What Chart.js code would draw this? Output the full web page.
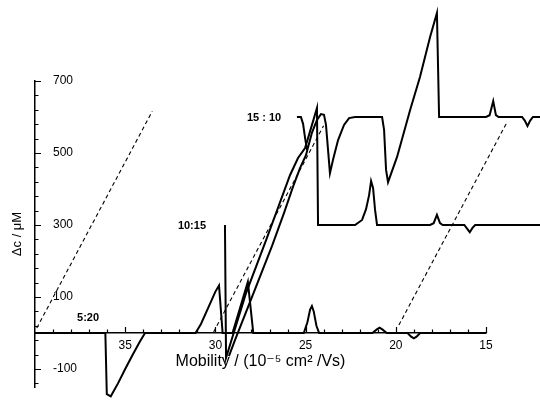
<!DOCTYPE html>
<html>
<head>
<meta charset="utf-8">
<script src="https://cdn.jsdelivr.net/npm/chart.js@4"></script>
<style>
  html, body { margin: 0; padding: 0; background: #fff; }
  #wrap { width: 540px; height: 400px; }
</style>
</head>
<body>
<div id="wrap"><canvas id="mobilityChart" width="540" height="400"></canvas></div>
<script>
// Trace 5:20 (baseline 0)
const mob520 = [40, 36.1, 36.02, 35.8, 35.4, 35.0, 34.6, 34.2, 33.9, 31.1, 30.8, 30.4, 30.0, 29.8, 29.6,
  29.05, 28.2, 27.9, 25.1, 24.9, 24.75, 24.65, 24.55, 24.4, 24.25, 21.3, 21.05, 20.9, 20.75, 20.5,
  19.35, 19.15, 19.0, 18.85, 18.65, 15];
const dc520 = [0, 0, -170, -176, -140, -100, -62, -25, 0, 0, 25, 70, 115, 132, 0,
  0, 142, 0, 0, 30, 65, 75, 60, 20, 0, 0, 10, 15, 10, 0,
  0, -10, -15, -10, 0, 0];

// Trace 10:15 (baseline 300)
const mob1015 = [29.47, 29.41, 28.3, 27.19, 26.47, 25.86, 25.42, 25.03, 24.70, 24.37, 24.31,
  22.26, 21.87, 21.65, 21.48, 21.37, 21.26, 21.15, 21.04,
  18.1, 17.9, 17.72, 17.55, 17.4, 16.2, 16.05, 15.9, 15.75, 15.6, 12];
const dc1015 = [300, -69, 111, 258, 356, 439, 486, 514, 569, 625, 300,
  300, 314, 344, 383, 422, 403, 342, 300,
  300, 305, 328, 305, 300, 300, 290, 280, 292, 300, 300];

// Trace 15:10 (baseline 600); null splits the short start from the rising front
const mob1510 = [25.48, 25.26, 25.14, 25.03, 24.92, 24.9,
  29.25, 28.91, 27.86, 26.86, 26.2, 25.7, 25.31, 24.98, 24.65, 24.37, 24.15, 23.98, 23.87, 23.65,
  23.48, 23.2, 22.87, 22.59, 22.26, 20.76, 20.65, 20.54, 20.43,
  19.93, 19.21, 18.66, 18.1, 17.72, 17.6, 15.0, 14.8, 14.6, 14.45, 14.3,
  13.0, 12.85, 12.7, 12.55, 12.4, 12];
const dc1510 = [600, 600, 581, 542, 508, null,
  -64, -19, 114, 242, 333, 406, 458, 494, 556, 592, 608, 606, 578, 444,
  481, 536, 578, 597, 600, 600, 564, 453, 419,
  489, 619, 711, 822, 889, 600, 600, 605, 644, 605, 600,
  600, 590, 575, 590, 600, 600];

// Dashed reference lines
const dashMob = [[39.9, 33.5], [30.1, 24.0], [19.83, 13.83]];
const dashDc = [[14, 616], [3, 576], [22, 586]];

// Axis ticks
const xTickValues = [15, 20, 25, 30, 35];
const yTickValues = [-100, 100, 300, 500, 700];

// Curve labels
const labelText = ['5:20', '10:15', '15 : 10'];
const labelMob = [37.06, 31.3, 27.3];
const labelDc = [42, 297, 597];

function toPoints(xs, ys) {
  return xs.map((x, i) => ({ x: x, y: ys[i] }));
}

const solid = {
  showLine: true,
  borderColor: '#000',
  borderWidth: 2,
  pointRadius: 0,
  tension: 0,
  spanGaps: false,
  clip: false,
};

const datasets = [
  Object.assign({ label: '5:20', data: toPoints(mob520, dc520) }, solid),
  Object.assign({ label: '10:15', data: toPoints(mob1015, dc1015) }, solid),
  Object.assign({ label: '15:10', data: toPoints(mob1510, dc1510) }, solid),
];
dashMob.forEach((m, i) => {
  datasets.push({
    label: 'ref' + i,
    data: toPoints(m, dashDc[i]),
    showLine: true,
    borderColor: '#000',
    borderWidth: 1.1,
    borderDash: [4, 3],
    pointRadius: 0,
    clip: false,
  });
});

// small inward tick marks and the curve labels
const decorations = {
  id: 'decorations',
  afterDraw(chart) {
    const ctx = chart.ctx;
    const xs = chart.scales.x;
    const ys = chart.scales.y;
    const y0 = ys.getPixelForValue(0);
    const xLeft = chart.chartArea.left;
    ctx.save();
    ctx.strokeStyle = '#000';
    ctx.lineWidth = 1.2;
    ctx.beginPath();
    for (let m = 15; m < 40; m++) {
      const px = Math.round(xs.getPixelForValue(m)) + 0.5;
      const len = m % 5 === 0 ? 6 : 3.5;
      ctx.moveTo(px, y0);
      ctx.lineTo(px, y0 - len);
    }
    for (let v = 700; v >= -140; v -= 40) {
      const py = Math.round(ys.getPixelForValue(v)) + 0.5;
      const len = (v - 100) % 200 === 0 ? 6 : 3.5;
      ctx.moveTo(xLeft, py);
      ctx.lineTo(xLeft + len, py);
    }
    ctx.stroke();

    ctx.fillStyle = '#000';
    ctx.font = 'bold 11px "Liberation Sans", Arial, sans-serif';
    ctx.textAlign = 'center';
    ctx.textBaseline = 'middle';
    labelText.forEach((t, i) => {
      ctx.fillText(t, xs.getPixelForValue(labelMob[i]), ys.getPixelForValue(labelDc[i]));
    });
    ctx.restore();
  }
};

const ctx = document.getElementById('mobilityChart').getContext('2d');
const mobilityChart = new Chart(ctx, {
  type: 'scatter',
  data: { datasets: datasets },
  options: {
    responsive: false,
    animation: false,
    events: [],
    layout: {
      autoPadding: false,
      padding: { left: 0, top: 81, right: 54, bottom: 13 },
    },
    plugins: {
      legend: { display: false },
      tooltip: { enabled: false },
    },
    scales: {
      x: {
        type: 'linear',
        reverse: true,
        min: 15,
        max: 40,
        position: { y: 0 },
        afterBuildTicks(scale) {
          scale.ticks = xTickValues.map(v => ({ value: v }));
        },
        afterFit(scale) {
          scale.height = 40;
          scale.paddingLeft = 0;
          scale.paddingRight = 0;
        },
        grid: { display: false, drawTicks: false },
        border: { display: true, color: '#000', width: 1.5 },
        ticks: {
          color: '#000',
          padding: 5,
          maxRotation: 0,
          font: { family: '"Liberation Sans", Arial, sans-serif', size: 12 },
        },
        title: {
          display: true,
          text: 'Mobility / (10⁻⁵ cm² /Vs)',
          color: '#000',
          padding: { top: 0, bottom: 2 },
          font: { family: '"Liberation Sans", "DejaVu Sans", Arial, sans-serif', size: 16 },
        },
      },
      y: {
        type: 'linear',
        min: -150,
        max: 700,
        position: 'left',
        afterBuildTicks(scale) {
          scale.ticks = yTickValues.map(v => ({ value: v }));
        },
        afterFit(scale) {
          scale.width = 35;
          scale.paddingTop = 0;
          scale.paddingBottom = 0;
        },
        grid: { display: false, drawTicks: false },
        border: { display: true, color: '#000', width: 1.5 },
        ticks: {
          mirror: true,
          padding: 18,
          color: '#000',
          font: { family: '"Liberation Sans", Arial, sans-serif', size: 12 },
        },
        title: {
          display: true,
          text: 'Δc / μM',
          color: '#000',
          padding: { top: 10, bottom: 0 },
          font: { family: '"Liberation Sans", Arial, sans-serif', size: 13 },
        },
      },
    },
  },
  plugins: [decorations],
});
</script>
</body>
</html>
